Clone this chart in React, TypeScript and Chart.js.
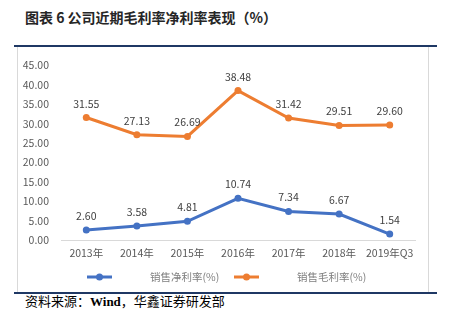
import React, { useEffect, useRef } from "react";
import { Chart, registerables } from "chart.js";

Chart.register(...registerables);

const categories = ["2013年", "2014年", "2015年", "2016年", "2017年", "2018年", "2019年Q3"];
const netMargin = [2.6, 3.58, 4.81, 10.74, 7.34, 6.67, 1.54];
const grossMargin = [31.55, 27.13, 26.69, 38.48, 31.42, 29.51, 29.6];
const seriesNames = ["销售净利率(%)", "销售毛利率(%)"];
const seriesColors = ["#4472C4", "#ED7D31"];

const FONT = "'Noto Sans CJK SC', 'Noto Sans', sans-serif";

const labelPlugin = {
  id: "pointLabels",
  afterDatasetsDraw(chart: any) {
    const ctx = chart.ctx;
    ctx.save();
    ctx.font = `10.5px ${FONT}`;
    ctx.fillStyle = "#404040";
    ctx.textAlign = "center";
    ctx.textBaseline = "middle";
    chart.data.datasets.forEach((ds: any, i: number) => {
      const meta = chart.getDatasetMeta(i);
      meta.data.forEach((pt: any, j: number) => {
        ctx.fillText(Number(ds.data[j]).toFixed(2), pt.x, pt.y - 14);
      });
    });
    ctx.restore();
  },
};

const legendPlugin = {
  id: "customLegend",
  afterDraw(chart: any) {
    const ctx = chart.ctx;
    const y = 230;
    const items = [
      { lx: 69, tx: 132 },
      { lx: 216, tx: 279 },
    ];
    ctx.save();
    items.forEach((it, i) => {
      ctx.strokeStyle = seriesColors[i];
      ctx.lineWidth = 3;
      ctx.beginPath();
      ctx.moveTo(it.lx, y);
      ctx.lineTo(it.lx + 25, y);
      ctx.stroke();
      ctx.fillStyle = seriesColors[i];
      ctx.beginPath();
      ctx.arc(it.lx + 12.5, y, 3.5, 0, Math.PI * 2);
      ctx.fill();
      ctx.font = `10.5px ${FONT}`;
      ctx.fillStyle = "#7f7f7f";
      ctx.textAlign = "left";
      ctx.textBaseline = "middle";
      ctx.fillText(seriesNames[i], it.tx, y);
    });
    ctx.restore();
  },
};

export default function App() {
  const ref = useRef<HTMLCanvasElement>(null);
  useEffect(() => {
    if (!ref.current) return;
    const chart = new Chart(ref.current, {
      type: "line",
      data: {
        labels: categories,
        datasets: [
          {
            label: seriesNames[0],
            data: netMargin,
            borderColor: seriesColors[0],
            backgroundColor: seriesColors[0],
            borderWidth: 3,
            pointRadius: 3.5,
            pointBackgroundColor: seriesColors[0],
            pointBorderWidth: 0,
            tension: 0,
          },
          {
            label: seriesNames[1],
            data: grossMargin,
            borderColor: seriesColors[1],
            backgroundColor: seriesColors[1],
            borderWidth: 3,
            pointRadius: 3.5,
            pointBackgroundColor: seriesColors[1],
            pointBorderWidth: 0,
            tension: 0,
          },
        ],
      },
      options: {
        responsive: false,
        animation: false,
        layout: { padding: { left: 0, right: 13, top: 12, bottom: 30 } },
        plugins: {
          legend: { display: false },
          tooltip: { enabled: false },
        },
        scales: {
          x: {
            offset: true,
            grid: { display: false, drawTicks: false },
            border: { display: true, color: "#d9d9d9", width: 1 },
            ticks: {
              color: "#595959",
              font: { size: 10.5, family: FONT },
              padding: 7,
              maxRotation: 0,
              autoSkip: false,
            },
            afterFit(scale: any) {
              scale.height = 22;
            },
          },
          y: {
            min: 0,
            max: 45,
            grid: { display: false, drawTicks: false },
            border: { display: false },
            ticks: {
              stepSize: 5,
              color: "#595959",
              font: { size: 10.5, family: FONT },
              padding: 12,
              callback: (v: any) => Number(v).toFixed(2),
            },
            afterFit(scale: any) {
              scale.width = 43;
            },
          },
        },
      },
      plugins: [labelPlugin, legendPlugin],
    });
    return () => chart.destroy();
  }, []);

  return (
    <div style={{ position: "absolute", left: 0, top: 0, width: 452, height: 326, background: "#fff" }}>
      <div
        style={{
          position: "absolute",
          left: 25,
          top: 6,
          fontFamily: FONT,
          fontSize: 14,
          fontWeight: 700,
          color: "#262626",
          lineHeight: "22px",
          whiteSpace: "nowrap",
        }}
      >
        图表 6 公司近期毛利率净利率表现（%）
      </div>
      <div style={{ position: "absolute", left: 14, top: 45, width: 423, height: 2, background: "#1f3864" }} />
      <div
        style={{
          position: "absolute",
          left: 17,
          top: 47,
          width: 410,
          height: 245,
          borderLeft: "1px solid #d9d9d9",
          borderRight: "1px solid #d9d9d9",
        }}
      >
        <canvas ref={ref} width={410} height={245} style={{ display: "block" }} />
      </div>
      <div style={{ position: "absolute", left: 14, top: 292, width: 423, height: 2, background: "#1f3864" }} />
      <div
        style={{
          position: "absolute",
          left: 25,
          top: 293,
          fontFamily: "'Liberation Serif', 'Noto Sans CJK SC', serif",
          fontSize: 13,
          color: "#000",
          lineHeight: "18px",
          whiteSpace: "nowrap",
        }}
      >
        资料来源：<b>Wind</b>，华鑫证券研发部
      </div>
    </div>
  );
}
